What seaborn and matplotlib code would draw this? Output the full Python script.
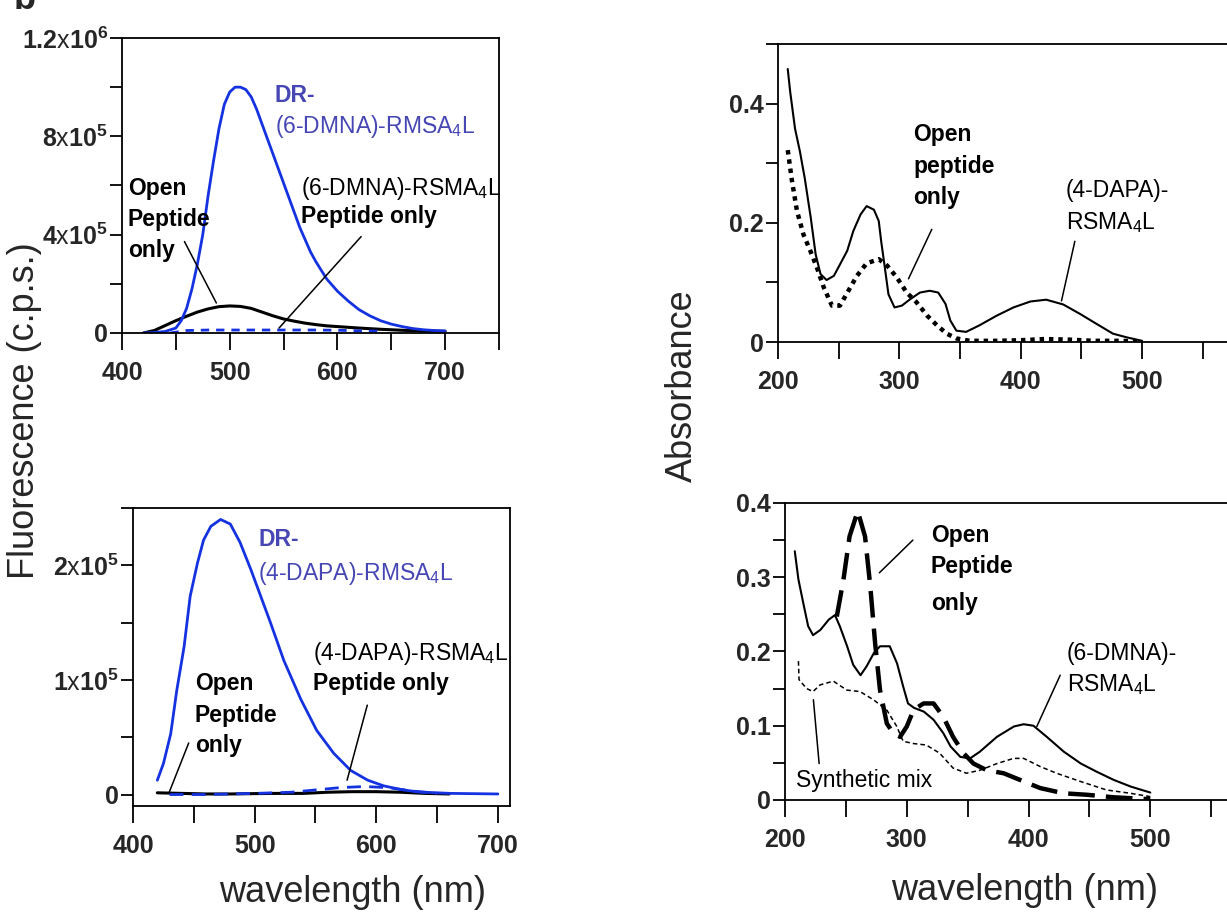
import matplotlib
matplotlib.use("Agg")
import matplotlib.pyplot as plt
from matplotlib.ticker import MultipleLocator
import seaborn as sns

# ---- fluorescence, 6-DMNA (top left) ----
tl_wl_dr = [420, 430, 440, 450, 455, 460, 465, 470, 475, 480, 485, 490, 495, 500, 505, 510, 515, 520,
            525, 530, 535, 540, 545, 550, 555, 560, 565, 570, 575, 580, 590, 600, 610, 620, 630, 640,
            650, 660, 670, 680, 690, 700]
tl_dr = [0.0, 0.02, 0.06, 0.2, 0.5, 1.0, 1.8, 2.8, 4.0, 5.6, 7.0, 8.3, 9.3, 9.8, 10.0, 10.0, 9.9, 9.6,
         9.1, 8.5, 7.9, 7.3, 6.7, 6.1, 5.5, 4.9, 4.3, 3.8, 3.3, 2.9, 2.2, 1.7, 1.3, 0.95, 0.7, 0.5,
         0.36, 0.26, 0.18, 0.13, 0.1, 0.08]
tl_wl_open = [420, 430, 440, 450, 460, 470, 480, 490, 500, 510, 520, 530, 540, 550, 560, 570, 580, 590,
              600, 620, 640, 660, 680, 700]
tl_open = [0.0, 0.1, 0.3, 0.5, 0.68, 0.85, 0.98, 1.07, 1.1, 1.08, 1.0, 0.85, 0.7, 0.57, 0.48, 0.4, 0.34,
           0.29, 0.26, 0.2, 0.15, 0.11, 0.08, 0.07]
tl_wl_pep = [445, 460, 480, 500, 520, 540, 560, 580, 600, 620, 640]
tl_pep = [0.0, 0.1, 0.12, 0.12, 0.12, 0.12, 0.12, 0.12, 0.11, 0.09, 0.07]

# ---- fluorescence, 4-DAPA (bottom left) ----
bl_wl_dr = [420, 425, 431, 436, 442, 447, 453, 458, 464, 472, 480, 488, 497, 505, 513, 524, 538, 551,
            565, 579, 593, 606, 620, 634, 661, 700]
bl_dr = [0.125, 0.27, 0.53, 0.91, 1.29, 1.73, 2.02, 2.22, 2.34, 2.40, 2.36, 2.2, 1.96, 1.73, 1.5, 1.17,
         0.83, 0.56, 0.36, 0.21, 0.125, 0.076, 0.044, 0.023, 0.01, 0.005]
bl_wl_open = [420, 440, 460, 480, 500, 520, 540, 560, 580, 600, 620, 640, 660]
bl_open = [0.015, 0.01, 0.005, 0.005, 0.008, 0.01, 0.01, 0.02, 0.025, 0.025, 0.02, 0.01, 0.005]
bl_wl_pep = [430, 460, 500, 530, 550, 570, 590, 610, 630, 650]
bl_pep = [0.0, 0.0, 0.01, 0.02, 0.04, 0.06, 0.07, 0.06, 0.03, 0.01]

# ---- absorbance, 4-DAPA (top right) ----
tr_wl_cpx = [208, 210, 214, 218, 222, 227, 231, 235, 240, 246, 251, 257, 262, 268, 273, 279, 283, 285,
             288, 291, 296, 302, 309, 317, 325, 332, 338, 342, 347, 355, 366, 380, 394, 408, 421, 435,
             449, 462, 476, 487, 500]
tr_cpx = [0.458, 0.42, 0.358, 0.32, 0.275, 0.208, 0.147, 0.114, 0.104, 0.111, 0.13, 0.153, 0.186, 0.214,
          0.228, 0.222, 0.203, 0.169, 0.125, 0.08, 0.058, 0.061, 0.072, 0.083, 0.086, 0.083, 0.064,
          0.036, 0.019, 0.017, 0.028, 0.044, 0.058, 0.068, 0.071, 0.063, 0.047, 0.031, 0.014, 0.008,
          0.002]
tr_wl_open = [208, 211.5, 215.6, 221, 226.6, 232, 237.6, 244.4, 251, 258, 265, 273, 283, 290, 298, 306,
              314, 323, 331, 339, 347, 358, 380, 400, 420, 440, 460, 480, 500]
tr_open = [0.322, 0.27, 0.22, 0.18, 0.153, 0.125, 0.092, 0.061, 0.061, 0.086, 0.111, 0.132, 0.139, 0.128,
           0.108, 0.083, 0.067, 0.044, 0.028, 0.014, 0.006, 0.002, 0.002, 0.003, 0.005, 0.004, 0.002,
           0.002, 0.001]

# ---- absorbance, 6-DMNA (bottom right) ----
br_wl_cpx = [208, 211, 215, 219, 223, 229, 236, 241, 245, 251, 256, 262, 267, 273, 278, 286, 292, 297,
             301, 306, 314, 322, 330, 336, 344, 352, 360, 374, 388, 396, 404, 415, 429, 443, 456, 470,
             484, 500]
br_cpx = [0.335, 0.297, 0.265, 0.234, 0.222, 0.229, 0.243, 0.249, 0.234, 0.207, 0.182, 0.168, 0.18, 0.198,
          0.207, 0.207, 0.184, 0.153, 0.13, 0.124, 0.119, 0.108, 0.09, 0.072, 0.058, 0.056, 0.065,
          0.085, 0.099, 0.102, 0.1, 0.085, 0.065, 0.049, 0.038, 0.027, 0.018, 0.01]
br_wl_open = [242.5, 248, 253, 259.7, 265.7, 270, 274, 278, 283.6, 289, 294.5, 300, 305.5, 313.7, 322,
              330, 338, 346.6, 354.8, 365.8, 379.5, 396, 409.6, 428.8, 448, 470, 500]
br_open = [0.247, 0.297, 0.355, 0.389, 0.355, 0.288, 0.211, 0.148, 0.103, 0.09, 0.085, 0.099, 0.121,
           0.13, 0.13, 0.112, 0.085, 0.063, 0.049, 0.04, 0.036, 0.025, 0.016, 0.009, 0.007, 0.0036,
           0.001]
br_wl_mix = [211, 211.5, 217.8, 223, 228.8, 239.7, 250.7, 261.6, 272.6, 283.6, 291.8, 297, 305.5, 316,
             327, 338, 349, 360, 374, 387.7, 396, 409.6, 423, 442.5, 464, 483.6, 500]
br_mix = [0.187, 0.162, 0.15, 0.146, 0.155, 0.16, 0.148, 0.146, 0.135, 0.121, 0.099, 0.079, 0.076, 0.074,
          0.063, 0.043, 0.036, 0.04, 0.049, 0.056, 0.056, 0.045, 0.036, 0.025, 0.0135, 0.009, 0.0045]

# ticks
fl_xticks = [400, 500, 600, 700]
ab_xticks = [200, 300, 400, 500]
tl_yticks = [0, 4e5, 8e5, 1.2e6]
tl_ylabels = ['0', r'4$\mathrm{x}$10$^{\mathbf{5}}$', r'8$\mathrm{x}$10$^{\mathbf{5}}$',
              r'1.2$\mathrm{x}$10$^{\mathbf{6}}$']
bl_yticks = [0, 1e5, 2e5]
bl_ylabels = ['0', r'1$\mathrm{x}$10$^{\mathbf{5}}$', r'2$\mathrm{x}$10$^{\mathbf{5}}$']
tr_yticks = [0, 0.2, 0.4]
tr_ylabels = ['0', '0.2', '0.4']
br_yticks = [0, 0.1, 0.2, 0.3, 0.4]
br_ylabels = ['0', '0.1', '0.2', '0.3', '0.4']

BLUE = '#1432e0'
TXT_BLUE = '#4646b4'

sns.set_style('ticks')
plt.rcParams['font.family'] = ['Liberation Sans', 'DejaVu Sans']
plt.rcParams['mathtext.fontset'] = 'custom'
plt.rcParams['mathtext.rm'] = 'Liberation Sans'
plt.rcParams['mathtext.bf'] = 'Liberation Sans:bold'
plt.rcParams['mathtext.it'] = 'Liberation Sans:italic'

fig = plt.figure(figsize=(12.27, 9.13), dpi=100)
ax_tl = fig.add_axes([0.0994, 0.6353, 0.3073, 0.3231])
ax_bl = fig.add_axes([0.1084, 0.1172, 0.3073, 0.3264])
ax_tr = fig.add_axes([0.6341, 0.6254, 0.3659, 0.3264])
ax_br = fig.add_axes([0.6398, 0.1238, 0.3602, 0.3253])


def style(ax, xlim, ylim, xmin, ymin, xt, yt, ylab, right=True):
    ax.set_xlim(*xlim)
    ax.set_ylim(*ylim)
    ax.xaxis.set_minor_locator(MultipleLocator(xmin))
    ax.yaxis.set_minor_locator(MultipleLocator(ymin))
    ax.set_xticks(xt)
    ax.set_xticklabels([str(v) for v in xt])
    ax.set_yticks(yt)
    ax.set_yticklabels(ylab)
    for s in ax.spines.values():
        s.set_color('black')
        s.set_linewidth(1.3)
    ax.spines['right'].set_visible(right)
    ax.tick_params(axis='x', which='both', direction='out', length=12, width=1.3, color='black')
    ax.tick_params(axis='y', which='both', direction='out', length=9, width=1.3, color='black')
    ax.tick_params(axis='x', labelsize=18, pad=8)
    ax.tick_params(axis='y', labelsize=18, pad=1)
    for lab in ax.get_xticklabels() + ax.get_yticklabels():
        lab.set_fontweight('bold')
    ax.set_xlabel('')
    ax.set_ylabel('')


def words(ax, x, ys, lines, weight='bold', color='black', size=16.5):
    for y, t in zip(ys, lines):
        ax.text(x, y, t, fontsize=size, fontweight=weight, color=color, ha='left', va='baseline')


def lead(ax, p0, p1):
    ax.annotate('', xy=p1, xytext=p0,
                arrowprops=dict(arrowstyle='-', lw=1.1, color='black', shrinkA=0, shrinkB=0))


# top left
sns.lineplot(x=tl_wl_open, y=[v * 1e5 for v in tl_open], ax=ax_tl, color='black', lw=2.2)
sns.lineplot(x=tl_wl_pep, y=[v * 1e5 for v in tl_pep], ax=ax_tl, color=BLUE, lw=2, linestyle=(0, (3, 2.5)))
sns.lineplot(x=tl_wl_dr, y=[v * 1e5 for v in tl_dr], ax=ax_tl, color=BLUE, lw=2)
style(ax_tl, (400, 750), (0, 1.2e6), 50, 2e5, fl_xticks, tl_yticks, tl_ylabels)
words(ax_tl, 541.8, [9.4e5], ['DR-'], color=TXT_BLUE)
words(ax_tl, 541.8, [8.12e5], [r'(6-DMNA)-RMSA$_4$L'], weight='normal', color=TXT_BLUE)
words(ax_tl, 405.6, [5.62e5, 4.36e5, 3.09e5], ['Open', 'Peptide', 'only'])
words(ax_tl, 566.6, [5.62e5], [r'(6-DMNA)-RSMA$_4$L'], weight='normal')
words(ax_tl, 566.6, [4.47e5], ['Peptide only'])
lead(ax_tl, (458, 3.72e5), (487.6, 1.22e5))
lead(ax_tl, (622, 3.92e5), (545.8, 0.2e5))

# bottom left
sns.lineplot(x=bl_wl_open, y=[v * 1e5 for v in bl_open], ax=ax_bl, color='black', lw=2.2)
sns.lineplot(x=bl_wl_pep, y=[v * 1e5 for v in bl_pep], ax=ax_bl, color=BLUE, lw=2, linestyle=(0, (5, 3)))
sns.lineplot(x=bl_wl_dr, y=[v * 1e5 for v in bl_dr], ax=ax_bl, color=BLUE, lw=2)
style(ax_bl, (400, 710), (-1e4, 2.5e5), 50, 0.5e5, fl_xticks, bl_yticks, bl_ylabels)
words(ax_bl, 502.9, [2.17e5], ['DR-'], color=TXT_BLUE)
words(ax_bl, 502.9, [1.875e5], [r'(4-DAPA)-RMSA$_4$L'], weight='normal', color=TXT_BLUE)
words(ax_bl, 547.9, [1.175e5], [r'(4-DAPA)-RSMA$_4$L'], weight='normal')
words(ax_bl, 547.9, [0.91e5], ['Peptide only'])
words(ax_bl, 450.8, [0.91e5, 0.636e5, 0.373e5], ['Open', 'Peptide', 'only'])
lead(ax_bl, (592.6, 0.78e5), (576, 0.125e5))
lead(ax_bl, (445.8, 0.45e5), (429.4, 0.01e5))

# top right
sns.lineplot(x=tr_wl_open, y=tr_open, ax=ax_tr, color='black', lw=3.2, linestyle=(0, (1, 1.1)))
sns.lineplot(x=tr_wl_cpx, y=tr_cpx, ax=ax_tr, color='black', lw=1.5)
style(ax_tr, (200, 570), (0, 0.5), 50, 0.1, ab_xticks, tr_yticks, tr_ylabels, right=False)
words(ax_tr, 311.6, [0.337, 0.283, 0.231], ['Open', 'peptide', 'only'])
words(ax_tr, 437.2, [0.244, 0.19], ['(4-DAPA)-', r'RSMA$_4$L'], weight='normal')
lead(ax_tr, (326.7, 0.189), (307.5, 0.106))
lead(ax_tr, (444.6, 0.169), (433.6, 0.069))

# bottom right
sns.lineplot(x=br_wl_mix, y=br_mix, ax=ax_br, color='black', lw=1.1, linestyle=(0, (3, 2)))
sns.lineplot(x=br_wl_open, y=br_open, ax=ax_br, color='black', lw=3.2, linestyle=(0, (6, 2.5)))
sns.lineplot(x=br_wl_cpx, y=br_cpx, ax=ax_br, color='black', lw=1.5)
style(ax_br, (200, 563), (0, 0.4), 50, 0.05, ab_xticks, br_yticks, br_ylabels, right=False)
words(ax_br, 319.7, [0.347, 0.306, 0.256], ['Open', 'Peptide', 'only'])
words(ax_br, 431.5, [0.189, 0.146], ['(6-DMNA)-', r'RSMA$_4$L'], weight='normal')
words(ax_br, 209, [0.018], ['Synthetic mix'], weight='normal')
lead(ax_br, (305, 0.35), (277.5, 0.306))
lead(ax_br, (426, 0.168), (406.8, 0.099))
lead(ax_br, (228, 0.049), (223.3, 0.135))

fig.text(0.0196, 0.55, 'Fluorescence (c.p.s.)', rotation=90, fontsize=26, ha='center', va='center')
fig.text(0.556, 0.578, 'Absorbance', rotation=90, fontsize=26, ha='center', va='center')
fig.text(0.287, 0.012, 'wavelength (nm)', fontsize=26, ha='center', va='baseline')
fig.text(0.835, 0.014, 'wavelength (nm)', fontsize=26, ha='center', va='baseline')
fig.text(0.011, 1 - 9 / 913, 'b', fontsize=26, fontweight='bold', ha='left', va='baseline')

fig.savefig('out.png', dpi=100)
